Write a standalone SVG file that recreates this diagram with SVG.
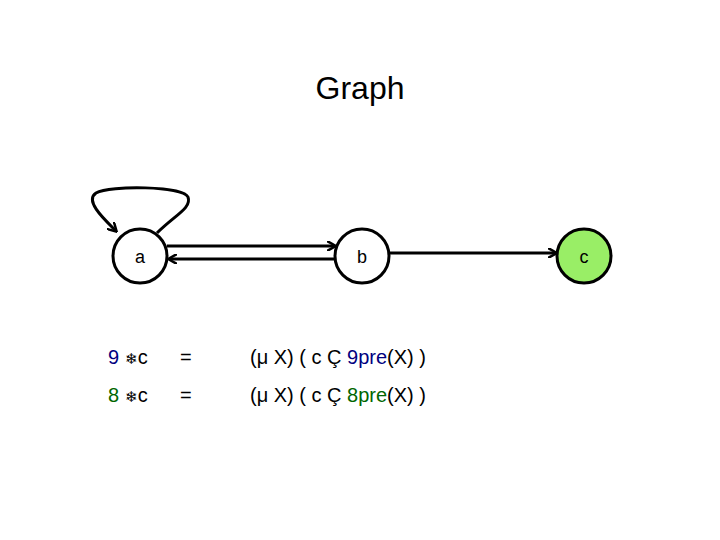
<svg xmlns="http://www.w3.org/2000/svg" width="720" height="540" viewBox="0 0 720 540">
<style>
.n{fill:#fff;stroke:#000;stroke-width:3}
.e{fill:none;stroke:#000;stroke-width:3}
text{font-family:"Liberation Sans",Arial,sans-serif;font-size:18px}
.f{font-size:20px}
.l{text-anchor:middle}
</style>
<defs><marker id="ar" markerWidth="10" markerHeight="10" refX="8" refY="5" orient="auto" markerUnits="userSpaceOnUse" viewBox="0 0 10 10"><path d="M0,0 L9,5 L0,10" fill="none" stroke="#000" stroke-width="2.5"/></marker></defs>
<rect width="720" height="540" fill="#fff"/>
<text x="360" y="99" class="l" style="font-size:32px">Graph</text>
<g id="edges">
<path class="e" d="M157,233 C175,215 192,208 188,197 C183,186 110,185 96,193 C84,201 105,220 116,231" marker-end="url(#ar)"/>
<line class="e" x1="167" y1="246" x2="335" y2="246" marker-end="url(#ar)"/>
<line class="e" x1="335" y1="259" x2="169" y2="259" marker-end="url(#ar)"/>
<line class="e" x1="389" y1="253" x2="556" y2="253" marker-end="url(#ar)"/>
</g>
<g id="a"><circle class="n" cx="140" cy="256" r="27"/><text x="140" y="263" class="l">a</text></g>
<g id="b"><circle class="n" cx="362" cy="256" r="27"/><text x="362" y="263" class="l">b</text></g>
<g id="c"><circle class="n" cx="584" cy="256" r="27" style="fill:#99ee66"/><text x="584" y="263" class="l">c</text></g>
<g id="formulas" class="f">
<text class="f" x="108" y="364"><tspan fill="#000080">9</tspan> <tspan font-size="15">❄</tspan>c</text>
<text class="f" x="180" y="364">=</text>
<text class="f" x="250" y="364">(μ X) ( c Ç <tspan fill="#000080">9pre</tspan>(X) )</text>
<text class="f" x="108" y="402"><tspan fill="#006600">8</tspan> <tspan font-size="15">❄</tspan>c</text>
<text class="f" x="180" y="402">=</text>
<text class="f" x="250" y="402">(μ X) ( c Ç <tspan fill="#006600">8pre</tspan>(X) )</text>
</g>
</svg>
